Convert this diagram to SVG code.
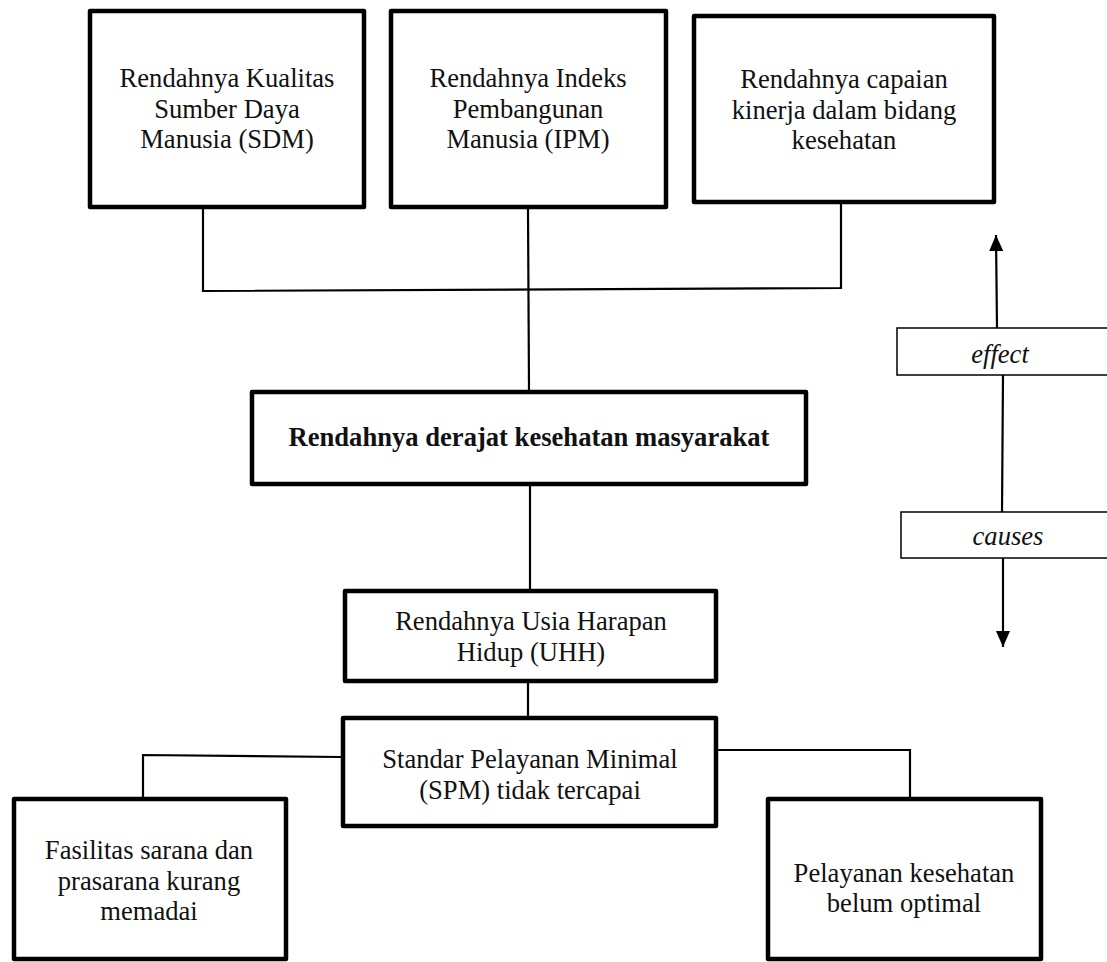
<svg xmlns="http://www.w3.org/2000/svg" width="1107" height="962" viewBox="0 0 1107 962">
<style>
.box{fill:#fff;stroke:#000;stroke-width:4.5;stroke-linejoin:round}
.lbox{fill:#fff;stroke:#000;stroke-width:1.5}
.t{font-family:"Liberation Serif","Times New Roman",serif;font-size:26.6px;fill:#111;text-anchor:middle}
.b{font-weight:bold}
.i{font-style:italic}
.c{fill:none;stroke:#000;stroke-width:2.2}
</style>
<defs>
<marker id="ah" viewBox="0 0 16 14" refX="16" refY="7" markerWidth="16" markerHeight="14" markerUnits="userSpaceOnUse" orient="auto">
<path d="M0,0 L16,7 L0,14 z" fill="#000"/>
</marker>
</defs>
<rect width="1107" height="962" fill="#fff"/>
<g id="connectors">
<polyline class="c" points="203,209 203,291 841,288 841,204"/>
<line class="c" x1="528" y1="209" x2="529" y2="390"/>
<line class="c" x1="530" y1="486" x2="530" y2="590"/>
<line class="c" x1="528" y1="683" x2="528" y2="716"/>
<polyline class="c" points="341,757 143,755 143,797"/>
<polyline class="c" points="717,750 910,750 910,797"/>
</g>
<g id="n1"><rect class="box" x="90" y="11" width="274" height="196"/>
<text class="t" x="227" y="87">Rendahnya Kualitas</text><text class="t" x="227" y="118">Sumber Daya</text><text class="t" x="227" y="148">Manusia (SDM)</text></g>
<g id="n2"><rect class="box" x="391" y="11" width="275" height="196"/>
<text class="t" x="528" y="87">Rendahnya Indeks</text><text class="t" x="528" y="118">Pembangunan</text><text class="t" x="528" y="148">Manusia (IPM)</text></g>
<g id="n3"><rect class="box" x="694" y="16" width="300" height="186"/>
<text class="t" x="844" y="88">Rendahnya capaian</text><text class="t" x="844" y="119">kinerja dalam bidang</text><text class="t" x="844" y="149">kesehatan</text></g>
<g id="n4"><rect class="box" x="252" y="392" width="554" height="92"/>
<text class="t b" x="529" y="446">Rendahnya derajat kesehatan masyarakat</text></g>
<g id="n5"><rect class="box" x="345" y="591" width="371" height="90"/>
<text class="t" x="531" y="630">Rendahnya Usia Harapan</text><text class="t" x="531" y="661">Hidup (UHH)</text></g>
<g id="n6"><rect class="box" x="343" y="718" width="373" height="108"/>
<text class="t" x="530" y="768">Standar Pelayanan Minimal</text><text class="t" x="530" y="799">(SPM) tidak tercapai</text></g>
<g id="n7"><rect class="box" x="14" y="799" width="272" height="160"/>
<text class="t" x="149" y="859">Fasilitas sarana dan</text><text class="t" x="149" y="890">prasarana kurang</text><text class="t" x="149" y="920">memadai</text></g>
<g id="n8"><rect class="box" x="768" y="799" width="273" height="160"/>
<text class="t" x="904" y="882">Pelayanan kesehatan</text><text class="t" x="904" y="912">belum optimal</text></g>
<g id="legend">
<line class="c" x1="997" y1="328" x2="996" y2="235" marker-end="url(#ah)"/>
<rect class="lbox" x="897" y="328" width="215" height="47"/>
<text class="t i" x="1000" y="363">effect</text>
<line class="c" x1="1003" y1="375" x2="1002" y2="512"/>
<rect class="lbox" x="901" y="512" width="211" height="46"/>
<text class="t i" x="1008" y="545">causes</text>
<line class="c" x1="1003" y1="558" x2="1003" y2="647" marker-end="url(#ah)"/>
</g>
</svg>
